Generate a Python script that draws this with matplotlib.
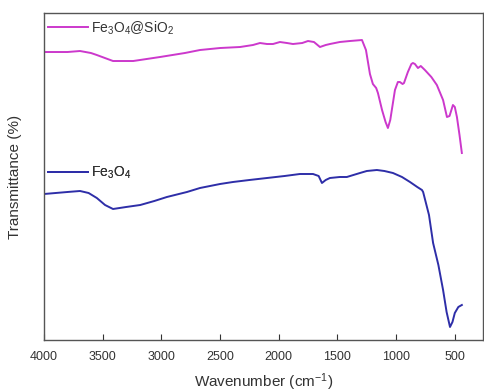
import matplotlib
matplotlib.use('Agg')
from matplotlib import pyplot as plt
from matplotlib.lines import Line2D

plt.rcParams['font.family'] = ['Liberation Sans', 'DejaVu Sans']
plt.rcParams['mathtext.fontset'] = 'custom'
plt.rcParams['mathtext.rm'] = 'Liberation Sans'
plt.rcParams['mathtext.it'] = 'Liberation Sans'

# Fe3O4@SiO2 spectrum (arbitrary transmittance units)
wn_sio2 = [4000, 3800, 3693, 3600, 3550, 3412, 3300, 3240, 3012, 2800, 2671, 2500,
           2330, 2220, 2160, 2100, 2049, 1990, 1930, 1879, 1800, 1751, 1700, 1649,
           1600, 1564, 1480, 1394, 1291, 1257, 1223, 1198, 1170, 1155, 1120, 1090,
           1070, 1050, 1010, 985, 968, 945, 933, 900, 870, 857, 840, 814, 790, 755,
           700, 653, 600, 567, 545, 516, 500, 482, 460, 440]
t_sio2 = [288, 288, 289, 287, 285, 279, 279, 279, 283, 287, 290, 292,
          293, 295, 297, 296, 296, 298, 297, 296, 297, 299, 298, 293,
          295, 296, 298, 299, 300, 290, 266, 256, 252, 247, 230, 218,
          212, 220, 250, 258, 258, 256, 257, 268, 276, 277, 276, 272, 274, 270,
          263, 255, 240, 223, 224, 235, 233, 223, 205, 187]

# Fe3O4 spectrum
wn_fe = [4000, 3800, 3693, 3620, 3550, 3480, 3412, 3300, 3180, 3060, 2953, 2782,
         2671, 2500, 2390, 2250, 2100, 1950, 1820, 1708, 1660, 1632, 1600, 1564,
         1480, 1420, 1308, 1250, 1164, 1100, 1027, 950, 882, 820, 780, 770, 720,
         685, 640, 600, 570, 541, 520, 500, 470, 440]
t_fe = [146, 148, 149, 147, 142, 135, 131, 133, 135, 139, 143, 148,
        152, 156, 158, 160, 162, 164, 166, 166, 164, 157, 160, 162,
        163, 163, 167, 169, 170, 169, 167, 163, 158, 153, 150, 148, 125,
        97, 75, 50, 28, 13, 18, 27, 33, 35]

labels = [r'Fe$_3$O$_4$@SiO$_2$', r'Fe$_3$O$_4$']
colours = ['#cc38cc', '#2e2ea8']
x_ticks = [4000, 3500, 3000, 2500, 2000, 1500, 1000, 500]

fig = plt.figure(figsize=(4.84, 3.92), dpi=100)
ax = fig.add_axes([0.0909, 0.1327, 0.907, 0.8341])

ax.plot(wn_sio2, t_sio2, color=colours[0], lw=1.4, solid_joinstyle='round')
ax.plot(wn_fe, t_fe, color=colours[1], lw=1.4, solid_joinstyle='round')

ax.set_xlim(4000, 260)
ax.set_ylim(0, 327)
ax.set_xticks(x_ticks)
ax.set_yticks([])
ax.tick_params(axis='x', direction='in', length=4, labelsize=9, colors='#333333', pad=8)
for s in ax.spines.values():
    s.set_color('#555555')
    s.set_linewidth(1.0)

ax.set_xlabel('Wavenumber (cm$^{-1}$)', fontsize=11, color='#333333', labelpad=6)
ax.set_ylabel('Transmittance (%)', fontsize=11, color='#333333', labelpad=16)

leg_y = [0.954, 0.511]
for i in range(2):
    h = Line2D([], [], color=colours[i], lw=1.4)
    leg = ax.legend([h], [labels[i]], loc='center left', bbox_to_anchor=(0.009, leg_y[i]),
                    frameon=False, fontsize=10, handlelength=2.9, handletextpad=0.2,
                    borderpad=0, borderaxespad=0)
    for t in leg.get_texts():
        t.set_color('#333333')
    ax.add_artist(leg)

fig.savefig('out.png', dpi=100)
